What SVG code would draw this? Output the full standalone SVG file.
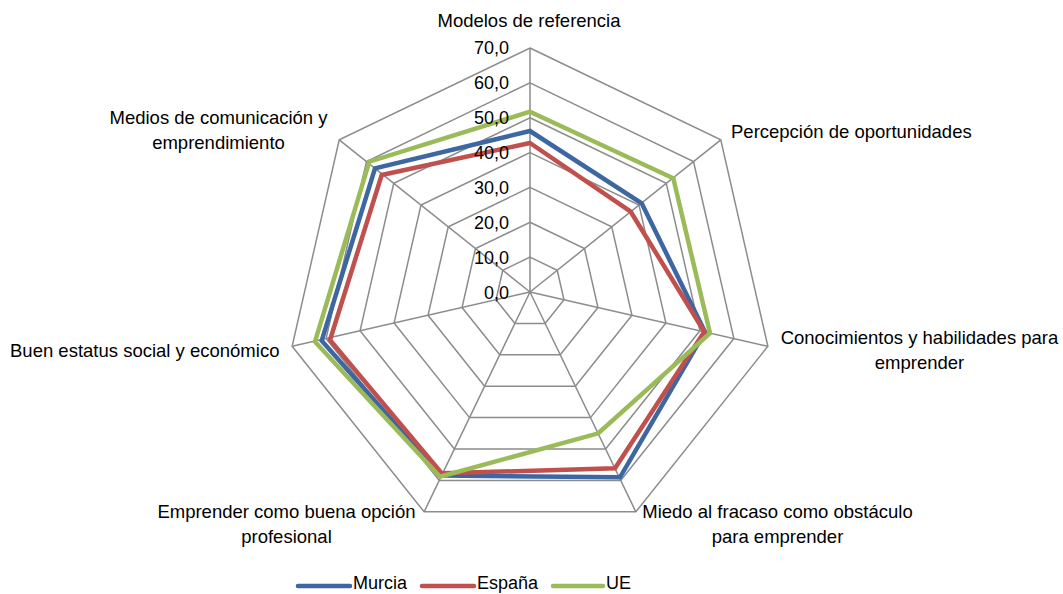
<svg xmlns="http://www.w3.org/2000/svg" width="1063" height="594" viewBox="0 0 1063 594">
<style>
text{font-family:"Liberation Sans",Arial,sans-serif;font-size:18.5px;fill:#000}
.grid{fill:none;stroke:#8c8c8c;stroke-width:1.5}
.series{fill:none;stroke-width:4.5;stroke-linejoin:miter}
.tick{text-anchor:end;font-size:18px}
.c{text-anchor:middle}
.leg{font-size:18px}
</style>
<rect width="1063" height="594" fill="#fff"/>
<g id="grid">
<polygon class="grid" points="530,257.14 557.25,270.27 563.98,299.76 545.12,323.41 514.88,323.41 496.02,299.76 502.75,270.27"/>
<polygon class="grid" points="530,222.29 584.51,248.53 597.97,307.51 560.25,354.81 499.75,354.81 462.03,307.51 475.49,248.53"/>
<polygon class="grid" points="530,187.43 611.76,226.80 631.95,315.27 575.37,386.22 484.63,386.22 428.05,315.27 448.24,226.80"/>
<polygon class="grid" points="530,152.57 639.01,205.07 665.93,323.03 590.50,417.62 469.50,417.62 394.07,323.03 420.99,205.07"/>
<polygon class="grid" points="530,117.71 666.27,183.33 699.92,330.78 605.62,449.03 454.38,449.03 360.08,330.78 393.73,183.33"/>
<polygon class="grid" points="530,82.86 693.51,161.60 733.90,338.54 620.74,480.43 439.26,480.43 326.10,338.54 366.49,161.60"/>
<polygon class="grid" points="530,48 720.77,139.87 767.88,346.29 635.87,511.84 424.13,511.84 292.12,346.29 339.23,139.87"/>
<path class="grid" d="M530,292L530,48M530,292L720.77,139.87M530,292L767.88,346.29M530,292L635.87,511.84M530,292L424.13,511.84M530,292L292.12,346.29M530,292L339.23,139.87"/>
</g>
<g id="connectors">
<polygon id="murcia" class="series" stroke="#3c67a3" points="530,131 641.7,203.3 705,332 620,477.3 441,475.5 321.7,340.7 375,168.3"/>
<polygon id="espana" class="series" stroke="#c0504d" points="530,143 630.7,211.7 704.3,331.7 615,468.3 441.7,473.3 330,340 381.7,175"/>
<polygon id="ue" class="series" stroke="#9bbb59" points="530,111.7 673.3,178.3 710,333.3 598.3,433.3 440,476.7 315,341.7 369.3,161.7"/>
</g>
<g id="ticks">
<text class="tick" x="509" y="54">70,0</text>
<text class="tick" x="509" y="89">60,0</text>
<text class="tick" x="509" y="124">50,0</text>
<text class="tick" x="509" y="159">40,0</text>
<text class="tick" x="509" y="194">30,0</text>
<text class="tick" x="509" y="229">20,0</text>
<text class="tick" x="509" y="264">10,0</text>
<text class="tick" x="509" y="299">0,0</text>
</g>
<g id="label-modelos"><text class="c" x="529" y="27">Modelos de referencia</text></g>
<g id="label-percepcion"><text x="731" y="138">Percepción de oportunidades</text></g>
<g id="label-conocimientos"><text class="c" x="919.5" y="344">Conocimientos y habilidades para</text><text class="c" x="919.5" y="369">emprender</text></g>
<g id="label-miedo"><text class="c" x="777.5" y="518">Miedo al fracaso como obstáculo</text><text class="c" x="777.5" y="543">para emprender</text></g>
<g id="label-emprender"><text class="c" x="286.5" y="518">Emprender como buena opción</text><text class="c" x="286.5" y="543">profesional</text></g>
<g id="label-buen"><text x="10" y="357">Buen estatus social y económico</text></g>
<g id="label-medios"><text class="c" x="218.5" y="124">Medios de comunicación y</text><text class="c" x="218.5" y="149">emprendimiento</text></g>
<g id="legend">
<line x1="298" y1="586" x2="350" y2="586" stroke="#3c67a3" stroke-width="4.5" stroke-linecap="round"/>
<text class="leg" x="353" y="589">Murcia</text>
<line x1="422" y1="586" x2="474" y2="586" stroke="#c0504d" stroke-width="4.5" stroke-linecap="round"/>
<text class="leg" x="477" y="589">España</text>
<line x1="553" y1="586" x2="603" y2="586" stroke="#9bbb59" stroke-width="4.5" stroke-linecap="round"/>
<text class="leg" x="606" y="589">UE</text>
</g>
</svg>
